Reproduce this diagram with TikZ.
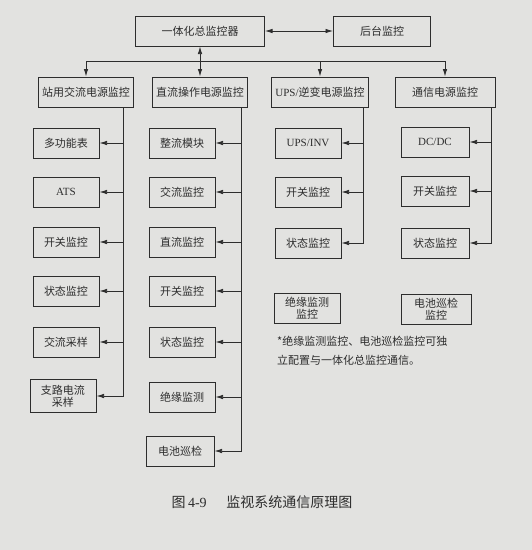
\documentclass[tikz,border=0pt]{standalone}
\usepackage{fontspec}
\setmainfont{Liberation Serif}
\newfontfamily\cjk{Noto Sans CJK SC}
\usetikzlibrary{arrows.meta}
\definecolor{paper}{RGB}{226,226,224}
\definecolor{ink}{RGB}{45,45,45}

\begin{document}
\begin{tikzpicture}[x=1pt,y=-1pt,>={Latex[length=7.5pt,width=4.5pt]},
  every node/.style={font=\cjk\fontsize{11}{13}\selectfont,text=ink},
  panel/.style={draw=ink,line width=1pt,minimum height=30pt,inner sep=1.5pt,
                align=center},
  unit/.style={panel,minimum width=66pt},
  twoline/.style={font=\cjk\fontsize{11}{12}\selectfont},
  wire/.style={ink,line width=.75pt}]

  \fill[paper] (0,0) rectangle (532,550);
  \useasboundingbox (0,0) rectangle (532,550);

  % Central controller and remote station.
  \node[panel,minimum width=129pt] (hub) at (200,31) {一体化总监控器};
  \node[panel,minimum width=97pt] (remote) at (382,31) {后台监控};
  \draw[wire,<->] (hub) -- (remote);

  % Four power subsystems on a common bus.
  \node[panel,minimum width=95pt] (ac) at (86,92) {站用交流电源监控};
  \node[panel,minimum width=95pt] (dc) at (200,92) {直流操作电源监控};
  \node[panel,minimum width=97pt] (ups) at (320,92)
    {{\rmfamily UPS/}逆变电源监控};
  \node[panel,minimum width=100pt] (com) at (445,92) {通信电源监控};
  \coordinate (bus) at (0,61);
  \draw[wire] (bus -| ac) -- (bus -| com);
  \draw[wire,<->] (hub) -- (dc);
  \draw[wire,->] (bus -| ac) -- (ac);
  \draw[wire,->] (bus -| ups) -- (ups);
  \draw[wire,->] (bus -| com) -- (com);

  % Station AC column.
  \coordinate (acl) at (123,0);
  \foreach \nm/\yy/\txt in {a1/143/多功能表,a2/192/{\rmfamily ATS},
      a3/242/开关监控,a4/291/状态监控,a5/342/交流采样}{
    \node[unit] (\nm) at (66,\yy) {\txt};
    \draw[wire,->] (acl |- \nm) -- (\nm);
  }
  \node[unit,twoline,minimum height=33pt] (a6) at (63,396) {支路电流\\采样};
  \draw[wire,->] (ac.south -| acl) |- (a6);
  % DC column.
  \coordinate (dcl) at (241,0);
  \foreach \nm/\yy/\txt in {d1/143/整流模块,d2/192/交流监控,d3/242/直流监控,
      d4/291/开关监控,d5/342/状态监控,d6/397/绝缘监测}{
    \node[unit] (\nm) at (182,\yy) {\txt};
    \draw[wire,->] (dcl |- \nm) -- (\nm);
  }
  \node[unit,minimum width=68pt] (d7) at (180,451) {电池巡检};
  \draw[wire,->] (dc.south -| dcl) |- (d7);

  % UPS and telecom columns.
  \coordinate (upl) at (363,0);
  \coordinate (col) at (491,0);
  \foreach \nm/\yy/\txt in {u1/143/{\rmfamily UPS/INV},u2/192/开关监控}{
    \node[unit] (\nm) at (308,\yy) {\txt};
    \draw[wire,->] (upl |- \nm) -- (\nm);
  }
  \node[unit] (u3) at (308,243) {状态监控};
  \draw[wire,->] (ups.south -| upl) |- (u3);
  \foreach \nm/\yy/\txt in {c1/142/{\rmfamily DC/DC},c2/191/开关监控}{
    \node[unit,minimum width=68pt] (\nm) at (435,\yy) {\txt};
    \draw[wire,->] (col |- \nm) -- (\nm);
  }
  \node[unit,minimum width=68pt] (c3) at (435,243) {状态监控};
  \draw[wire,->] (com.south -| col) |- (c3);

  % Stand-alone monitors.
  \node[unit,twoline] (ins) at (307,308) {绝缘监测\\监控};
  \node[unit,twoline,minimum width=70pt] (bat) at (436,309) {电池巡检\\监控};
  \node[anchor=north west,align=left,inner sep=0pt,
        font=\cjk\fontsize{11}{19}\selectfont] (note) at (277,336)
    {*绝缘监测监控、电池巡检监控可独\\立配置与一体化总监控通信。};

  \node[font=\cjk\fontsize{14}{16}\selectfont] (cap) at (262,502)
    {图\,{\rmfamily 4-9}\hspace{1.4em}监视系统通信原理图};
\end{tikzpicture}
\end{document}
